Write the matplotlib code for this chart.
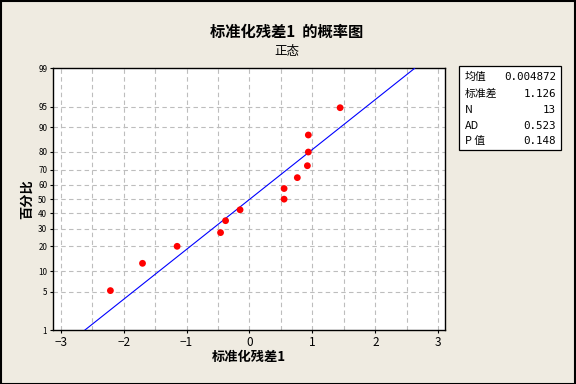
from statistics import NormalDist

import numpy as np
import matplotlib
matplotlib.use("Agg")
import matplotlib.pyplot as plt
from matplotlib.patches import Rectangle
from matplotlib.ticker import MultipleLocator

plt.rcParams['font.family'] = ['Noto Sans CJK SC', 'DejaVu Sans']

# standardized residuals (x) and plotting positions in percent (y)
residuals = [-2.21, -1.70, -1.15, -0.46, -0.38, -0.15, 0.55, 0.55,
             0.76, 0.92, 0.935, 0.935, 1.44]
percents = [5.2, 12.7, 20.1, 27.6, 35.1, 42.5, 50.0, 57.5, 64.9,
            72.4, 79.9, 87.3, 94.8]
fit_mean = 0.004872
fit_sd = 1.126
y_ticks = [1, 5, 10, 20, 30, 40, 50, 60, 70, 80, 90, 95, 99]
x_ticks = [-3, -2, -1, 0, 1, 2, 3]
stats_labels = ["均值", "标准差", "N", "AD", "P 值"]
stats_values = ["0.004872", "1.126", "13", "0.523", "0.148"]

nd = NormalDist()
_ppf = np.vectorize(nd.inv_cdf, otypes=[float])
_cdf = np.vectorize(nd.cdf, otypes=[float])


def prob_fwd(p):
    p = np.clip(np.asarray(p, dtype=float) / 100.0, 1e-9, 1 - 1e-9)
    return _ppf(p)


def prob_inv(z):
    return _cdf(np.asarray(z, dtype=float)) * 100.0


bg = "#EFEBE1"
fig = plt.figure(figsize=(5.76, 3.84), dpi=100, facecolor=bg)
ax = fig.add_axes([0.0915, 0.1406, 0.681, 0.6815])
ax.set_facecolor("white")
ax.set_yscale("function", functions=(prob_fwd, prob_inv))
ax.set_ylim(1, 99)
ax.set_xlim(-3.127, 3.106)

# fitted normal line, from the 1% to the 99% point
line_p = np.array([y_ticks[0], y_ticks[-1]])
line_x = fit_mean + fit_sd * prob_fwd(line_p)
ax.plot(line_x, line_p, color="#0000FF", lw=0.8, zorder=3)
ax.scatter(residuals, percents, s=24, color="#FF0000", zorder=4,
           edgecolors="none")

ax.set_yticks(y_ticks)
ax.set_yticklabels([str(t) for t in y_ticks])
ax.yaxis.set_minor_locator(plt.NullLocator())
ax.set_xticks(x_ticks)
ax.set_xticklabels([str(t).replace("-", "\u2212") for t in x_ticks])
ax.xaxis.set_minor_locator(MultipleLocator(0.5))
ax.tick_params(axis="y", labelsize=5.8, length=2.5, width=0.8, pad=1.5)
ax.tick_params(axis="x", labelsize=8.5, length=2.5, width=0.8, pad=1.5)
ax.tick_params(axis="x", which="minor", length=0)

grid_kw = dict(color="#BDBDBD", linestyle=(0, (4, 3)), linewidth=0.8)
ax.grid(True, which="both", axis="x", **grid_kw)
for t in y_ticks[1:-1]:
    ax.axhline(t, zorder=0.5, **grid_kw)
ax.set_axisbelow(True)
for sp in ax.spines.values():
    sp.set_linewidth(1.0)
    sp.set_color("black")

ax.set_xlabel("标准化残差1", fontsize=9.5, fontweight="bold", labelpad=1)
ax.set_ylabel("百分比", fontsize=9.5, fontweight="bold", labelpad=3)

fig.text(0.498, 0.918, "标准化残差1  的概率图", ha="center", va="center",
         fontsize=11, fontweight="bold")
fig.text(0.498, 0.866, "正态", ha="center", va="center", fontsize=9)

# statistics box
box = Rectangle((458.5 / 576, 1 - 150 / 384), 102.5 / 576, 84.3 / 384,
                transform=fig.transFigure, facecolor="white",
                edgecolor="black", lw=0.9)
fig.patches.append(box)
row_y = [76.7, 94.0, 110.0, 125.7, 140.7]
for lab, val, yy in zip(stats_labels, stats_values, row_y):
    fig.text(465 / 576, 1 - yy / 384, lab, ha="left", va="center",
             fontsize=7.8)
    fig.text(556 / 576, 1 - yy / 384, val, ha="right", va="center",
             fontsize=7.8, family="DejaVu Sans Mono")

# outer frame
fig.patches.append(Rectangle((0.001, 0.001), 0.998, 0.997,
                             transform=fig.transFigure, fill=False,
                             edgecolor="black", lw=1.5))

fig.savefig("out.png", dpi=100, facecolor=bg)
